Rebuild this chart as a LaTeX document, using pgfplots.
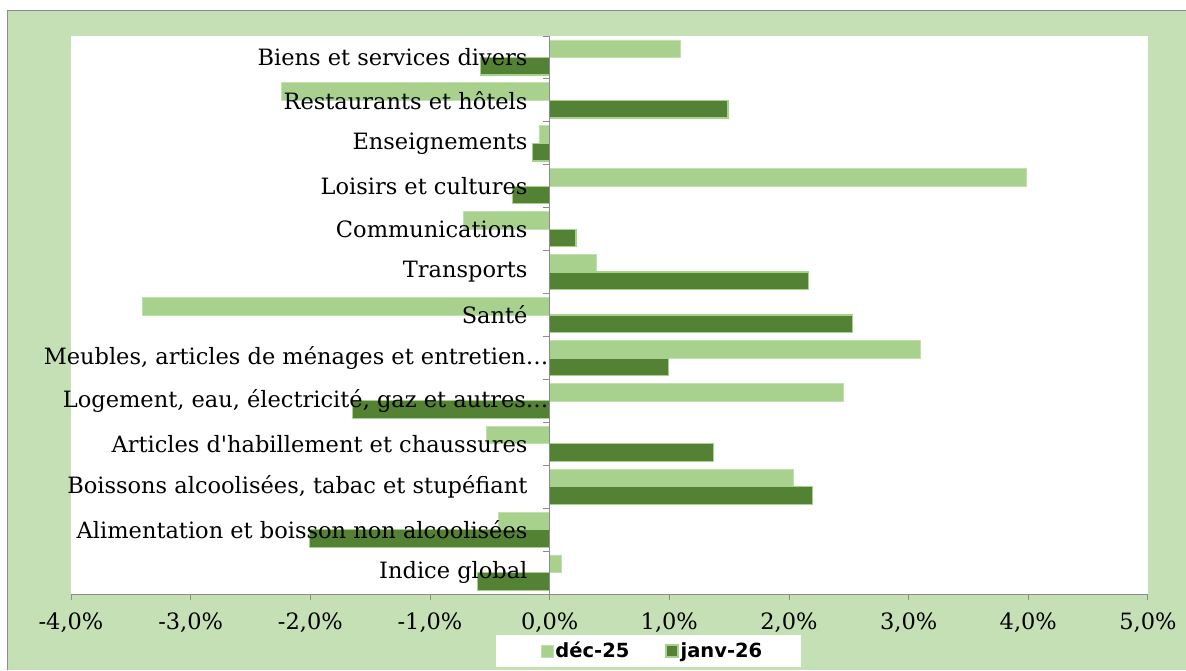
\documentclass[border=0pt]{standalone}
\usepackage{pgfplots}
\pgfplotsset{compat=1.18}
\usepackage{pgfplotstable}
\usepackage{fontspec}
\setmainfont{DejaVu Serif}[Ligatures=TeXOff]
\newfontfamily\legfont{DejaVu Sans}
\definecolor{bg}{HTML}{C5E0B4}
\definecolor{lg}{HTML}{A9D18E}
\definecolor{dg}{HTML}{548235}
\definecolor{axc}{HTML}{8C8C8C}

\pgfplotstableread{
y dec jan
0 0.10 -0.60
1 -0.43 -2.01
2 2.04 2.20
3 -0.53 1.37
4 2.45 -1.65
5 3.10 0.99
6 -3.40 2.53
7 0.39 2.16
8 -0.72 0.22
9 3.98 -0.31
10 -0.09 -0.14
11 -2.24 1.49
12 1.09 -0.58
}\data

\begin{document}
\begin{tikzpicture}
\useasboundingbox (0pt,0pt) rectangle (1186pt,670pt);
\fill[bg] (7pt,0pt) rectangle (1186pt,659pt);
\draw[axc, line width=1pt] (7pt,0pt) -- (7pt,659pt) -- (1186pt,659pt);
\fill[white] (496pt,3pt) rectangle (801pt,35pt);
\begin{axis}[
  at={(71pt,76pt)}, anchor=south west, scale only axis,
  width=1077pt, height=558pt,
  xmin=-4, xmax=5, ymin=-0.5, ymax=12.5,
  axis background/.style={fill=white},
  axis x line=bottom, axis y line=center,
  axis line style={axc, line width=0.9pt, -},
  tick align=outside,
  tick style={axc, line width=0.9pt},
  major tick length=6pt, minor tick length=7pt,
  xtick={-4,...,5},
  xticklabels={{-4,0\%},{-3,0\%},{-2,0\%},{-1,0\%},{0,0\%},{1,0\%},{2,0\%},{3,0\%},{4,0\%},{5,0\%}},
  hide obscured x ticks=false,
  xticklabel style={font=\fontsize{22.5}{26}\selectfont, inner sep=0pt, anchor=north, yshift=-13pt},
  ytick={0,...,12},
  yticklabels={{Indice global}, {Alimentation et boisson non alcoolisées}, {Boissons alcoolisées, tabac et stupéfiant}, {Articles d'habillement et chaussures}, {Logement, eau, électricité, gaz et autres…\kern-21pt}, {Meubles, articles de ménages et entretien…\kern-21pt}, {Santé}, {Transports}, {Communications}, {Loisirs et cultures}, {Enseignements}, {Restaurants et hôtels}, {Biens et services divers}},
  major y tick style={draw=none},
  minor ytick={-0.5,0.5,...,12.5},
  yticklabel style={font=\fontsize{22.5}{26}\selectfont, inner sep=0pt, anchor=east, xshift=-16pt},
  legend style={at={(0.540,-0.102)}, anchor=center, draw=none, fill=none,
    legend columns=2, font=\legfont\bfseries\fontsize{19.5}{22}\selectfont,
    /tikz/every even column/.append style={column sep=34pt},
    nodes={inner sep=2pt}},
  legend image code/.code={\draw[#1] (0pt,-6pt) rectangle (12pt,6pt);},
  axis on top,
]
\addplot[xbar, bar width=17.6pt, bar shift=8.8pt, fill=lg, draw=lg!70!white, line width=0.6pt] table[x=dec,y=y]{\data};
\addlegendentry{déc-25}
\addplot[xbar, bar width=17.6pt, bar shift=-8.8pt, fill=dg, draw=lg, line width=1.2pt] table[x=jan,y=y]{\data};
\addlegendentry{janv-26}
\end{axis}
\end{tikzpicture}
\end{document}
